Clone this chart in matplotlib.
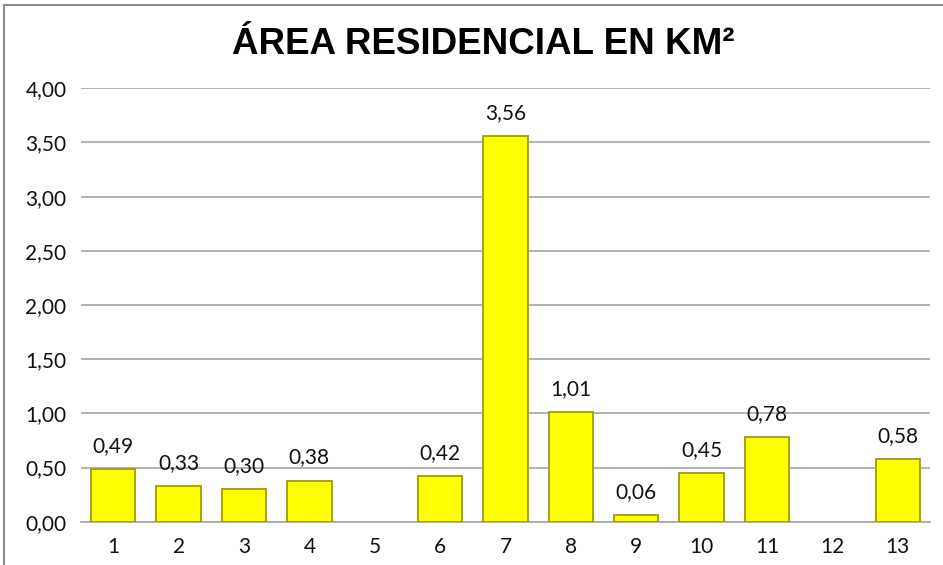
import matplotlib
matplotlib.use("Agg")
import matplotlib.pyplot as plt
import matplotlib.patches as mpatches

# ── Data ─────────────────────────────────────────────────────────────────────
categories = ["1", "2", "3", "4", "5", "6", "7", "8", "9", "10", "11", "12", "13"]
values     = [0.49, 0.33, 0.30, 0.38, None, 0.42, 3.56, 1.01, 0.06, 0.45, 0.78, None, 0.58]
y_ticks    = [0.0, 0.5, 1.0, 1.5, 2.0, 2.5, 3.0, 3.5, 4.0]
title      = "ÁREA RESIDENCIAL EN KM²"


def fmt(v):
    return f"{v:.2f}".replace(".", ",")


W, H = 943, 565
fig = plt.figure(figsize=(W / 100, H / 100), dpi=100)
ax = fig.add_axes([80.5 / W, 1 - 521.7 / H, 850 / W, (521.7 - 88.3) / H])

label_font = ["Lato", "DejaVu Sans"]
text_col   = "#111111"
grid_col   = "#a6a6a6"

# ── Bars ─────────────────────────────────────────────────────────────────────
xs = list(range(len(categories)))
for x, v in zip(xs, values):
    if v is None:
        continue
    ax.bar(x, v, width=0.68, color="#ffff00", edgecolor="#9e9e00",
           linewidth=1.3, zorder=3)
    ax.text(x, v + 0.12, fmt(v), ha="center", va="bottom",
            fontsize=15, color=text_col, family=label_font, zorder=4)

# ── Axes styling ─────────────────────────────────────────────────────────────
ax.set_xlim(-0.5, len(categories) - 0.5)
ax.set_ylim(0, 4.0)
ax.set_yticks(y_ticks)
ax.set_yticklabels([fmt(t) for t in y_ticks], family=label_font, fontsize=15)
ax.set_xticks(xs)
ax.set_xticklabels(categories, family=label_font, fontsize=15)
ax.tick_params(length=0, colors=text_col)
ax.tick_params(axis="x", pad=11)
ax.tick_params(axis="y", pad=10)
ax.grid(axis="y", color=grid_col, linewidth=1.2, zorder=0)
for side in ["top", "right", "left"]:
    ax.spines[side].set_visible(False)
ax.spines["bottom"].set_color(grid_col)
ax.spines["bottom"].set_linewidth(1.2)

# ── Title ────────────────────────────────────────────────────────────────────
fig.text(483 / W, 1 - 45 / H, title, ha="center", va="center",
         fontsize=26.5, fontweight="bold", color="black",
         family=["Liberation Sans", "DejaVu Sans"])

# Outer chart border (cropped on right and bottom)
fig.patches.append(mpatches.Rectangle((4 / W, -0.5), 2, 1.5 - 5 / H,
                                      transform=fig.transFigure, fill=False,
                                      edgecolor="#8c8c8c", linewidth=1.5))

plt.savefig("out.png", dpi=100)
plt.close()
